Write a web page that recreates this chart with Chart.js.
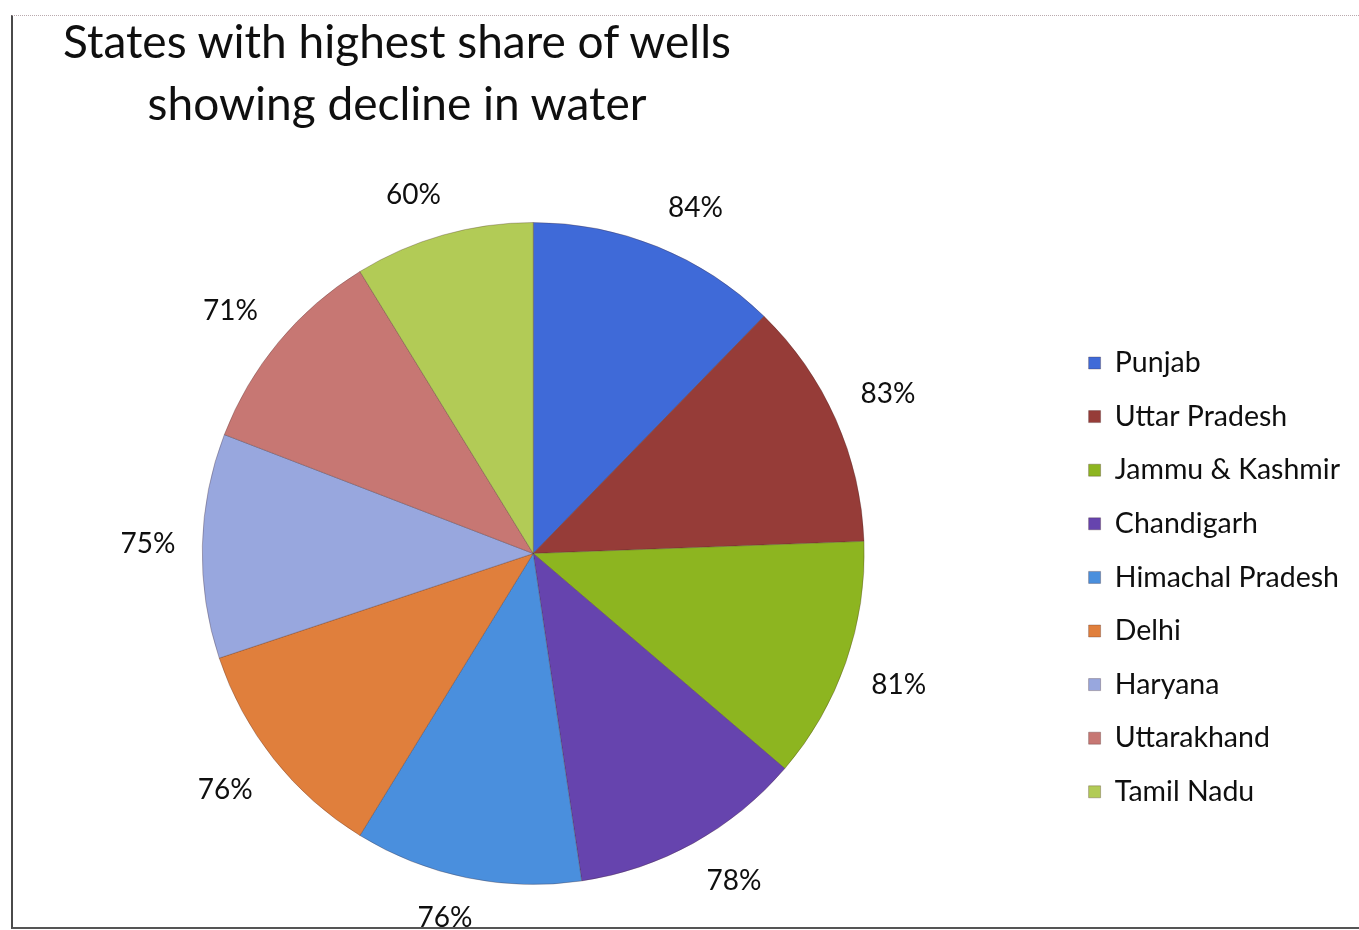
<!DOCTYPE html>
<html>
<head>
<meta charset="utf-8">
<script src="https://cdn.jsdelivr.net/npm/chart.js@4.4.0/dist/chart.umd.min.js"></script>
<style>
    html, body { margin: 0; padding: 0; background: #ffffff; overflow: hidden; }
    #wrap { position: relative; width: 1359px; height: 930px; }
    #frame {
        position: absolute; left: 11px; top: 15px; width: 1400px; height: 911px;
        border-left: 2px solid #4a4a4a; border-top: 1px dotted #b9a9ae; border-bottom: 2px solid #555555;
    }
    #title {
        position: absolute; left: 0; top: 10px; width: 794px; text-align: center;
        font-family: Lato, "Noto Sans", sans-serif; font-size: 46px; line-height: 62px; color: #0f0f0f;
    }
    canvas { position: absolute; left: 0; top: 0; }
</style>
</head>
<body>
<div id="wrap">
    <div id="frame"></div>
    <canvas id="wellsPie" width="1359" height="930"></canvas>
    <div id="title">States with highest share of wells<br>showing decline in water</div>
</div>
<script>
// states and their share of wells with falling water level (%)
const states = ['Punjab', 'Uttar Pradesh', 'Jammu & Kashmir', 'Chandigarh', 'Himachal Pradesh',
    'Delhi', 'Haryana', 'Uttarakhand', 'Tamil Nadu'];
const shares = [84, 83, 81, 78, 76, 76, 75, 71, 60];

const sliceColors = ['#3f6ad8', '#963c38', '#8db520', '#6644ae', '#4a8fdd',
    '#e07f3c', '#98a7de', '#c77773', '#b2cb56'];

// draws the "84%" style labels just outside each slice
const outsideLabels = {
    id: 'outsideLabels',
    afterDatasetsDraw: function (chart) {
        const ctx = chart.ctx;
        const meta = chart.getDatasetMeta(0);
        ctx.save();
        ctx.font = '28px Lato, "Noto Sans", sans-serif';
        ctx.fillStyle = '#0f0f0f';
        ctx.textAlign = 'center';
        ctx.textBaseline = 'middle';
        meta.data.forEach(function (arc, i) {
            const mid = (arc.startAngle + arc.endAngle) / 2;
            const dx = Math.cos(mid), dy = Math.sin(mid);
            const text = shares[i] + '%';
            const w = ctx.measureText(text).width, h = 28;
            const clamp = function (v) { return Math.max(-1, Math.min(1, v)); };
            const gap = 27;
            const x = arc.x + dx * (arc.outerRadius + gap) + clamp(dx * 3) * w / 2;
            const y = arc.y + dy * (arc.outerRadius + gap) + clamp(dy * 3) * h / 2;
            ctx.fillText(text, x, y);
        });
        ctx.restore();
    }
};

const ctx = document.getElementById('wellsPie').getContext('2d');
const pie = new Chart(ctx, {
    type: 'pie',
    data: {
        labels: states,
        datasets: [{
            data: shares,
            backgroundColor: sliceColors,
            borderColor: 'rgba(70,40,40,0.3)',
            borderWidth: 1,
            hoverOffset: 0
        }]
    },
    options: {
        responsive: false,
        devicePixelRatio: 1,
        animation: false,
        layout: {
            padding: { top: 222, bottom: 45, left: 3, right: 9 }
        },
        plugins: {
            tooltip: { enabled: false },
            legend: {
                position: 'right',
                title: { display: true, text: ' ', font: { size: 12 }, padding: { top: 33.4, bottom: 0 } },
                labels: {
                    boxWidth: 12,
                    boxHeight: 12,
                    padding: 25.1,
                    color: '#0f0f0f',
                    font: { family: 'Lato, "Noto Sans", sans-serif', size: 28.5 }
                }
            }
        }
    },
    plugins: [outsideLabels]
});
</script>
</body>
</html>
